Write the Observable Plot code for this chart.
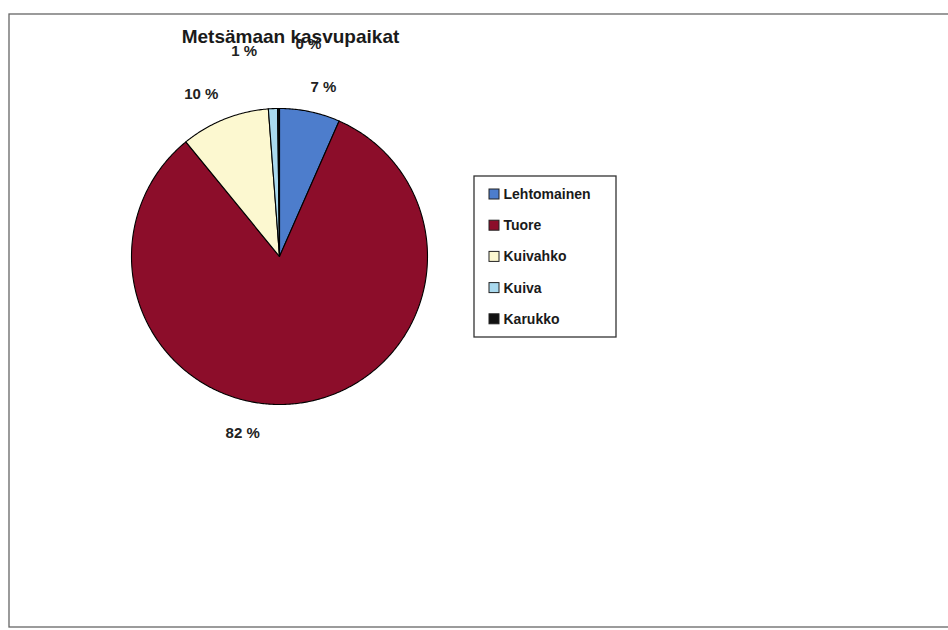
<!DOCTYPE html>
<html>
<head>
<meta charset="utf-8">
<script src="https://cdn.jsdelivr.net/npm/d3@7"></script>
<script src="https://cdn.jsdelivr.net/npm/@observablehq/plot@0.6"></script>
<style>
  html, body { margin: 0; padding: 0; background: #fff; }
  #chart { width: 948px; height: 630px; }
</style>
</head>
<body>
<div id="chart"></div>
<script>
// ---- data ----
const title = "Metsämaan kasvupaikat";
const categories = ["Lehtomainen", "Tuore", "Kuivahko", "Kuiva", "Karukko"];
const shares = [6.6, 82.5, 9.7, 1.0, 0.2];
const pctLabels = ["7 %", "82 %", "10 %", "1 %", "0 %"];
const colors = ["#4d7dcc", "#8c0d2a", "#fcf8d0", "#a9d9ee", "#111111"];

// ---- layout (not data) ----
const W = 948, H = 630;
const cx = 279, cy = 256, R = 148;
// label placement: angular nudge (deg) and radial factor relative to slice mid-angle
const labelNudgeDeg = [2.7, 19.5, -4, -7.2, 8.1];
const labelRadius = [1.18, 1.22, 1.215, 1.41, 1.45];
const legendBox = {x1: 474, x2: 616, y1: 176, y2: 337};
const legendRow0 = 194, legendStep = 31.2, swatchX = 489, swatchSize = 10, legendTextX = 503;

const pie = d3.pie().sort(null).value(d => d)(shares);
const toXY = (a, r) => ({x: cx + r * Math.sin(a), y: cy - r * Math.cos(a)});

const sliceMarks = pie.map((s, i) => {
  const pts = [{x: cx, y: cy}];
  const n = Math.max(2, Math.ceil((s.endAngle - s.startAngle) / 0.01));
  for (let k = 0; k <= n; k++) {
    const a = s.startAngle + (s.endAngle - s.startAngle) * k / n;
    pts.push(toXY(a, R));
  }
  pts.push({x: cx, y: cy});
  return Plot.line(pts, {x: "x", y: "y", fill: colors[i], stroke: "#000", strokeWidth: 1.1, strokeLinejoin: "round", curve: "linear"});
});

const labelData = pie.map((s, i) => {
  const mid = (s.startAngle + s.endAngle) / 2 + labelNudgeDeg[i] * Math.PI / 180;
  const p = toXY(mid, R * labelRadius[i]);
  return {x: p.x, y: p.y, text: pctLabels[i]};
});

const legendData = categories.map((c, i) => ({
  name: c, color: colors[i], y: legendRow0 + i * legendStep
}));

const chart = Plot.plot({
  width: W, height: H,
  margin: 0,
  x: {type: "linear", domain: [0, W], range: [0, W], axis: null},
  y: {type: "linear", domain: [0, H], range: [0, H], axis: null},
  style: {fontFamily: "'Liberation Sans', Arial, sans-serif", background: "#fff"},
  marks: [
    // outer chart frame
    Plot.rect([{}], {x1: 9, x2: 960, y1: 14, y2: 627, fill: "none", stroke: "#666", strokeWidth: 1.3}),
    ...sliceMarks,
    Plot.text(labelData, {x: "x", y: "y", text: "text", fontSize: 15, fontWeight: "bold", fill: "#222", ariaLabel: "pct-text"}),
    Plot.text([title], {x: 290, y: 36, text: d => d, fontSize: 19, fontWeight: "bold", fill: "#1a1a1a"}),
    // legend
    Plot.rect([legendBox], {x1: "x1", x2: "x2", y1: "y1", y2: "y2", fill: "#fff", stroke: "#333", strokeWidth: 1.3}),
    Plot.rect(legendData, {x1: swatchX, x2: swatchX + swatchSize, y1: d => d.y - swatchSize / 2, y2: d => d.y + swatchSize / 2, fill: "color", stroke: "#222", strokeWidth: 1}),
    Plot.text(legendData, {x: legendTextX, y: "y", text: "name", textAnchor: "start", fontSize: 14, fontWeight: "bold", fill: "#1a1a1a", ariaLabel: "legend-text"})
  ],
  color: {type: "identity"}
});
d3.select(chart).selectAll("g[aria-label='legend-text'] text").style("letter-spacing", "1.4px");
d3.select(chart).selectAll("g[aria-label='pct-text'] text").style("letter-spacing", "1px");
document.getElementById("chart").appendChild(chart);
</script>
</body>
</html>
